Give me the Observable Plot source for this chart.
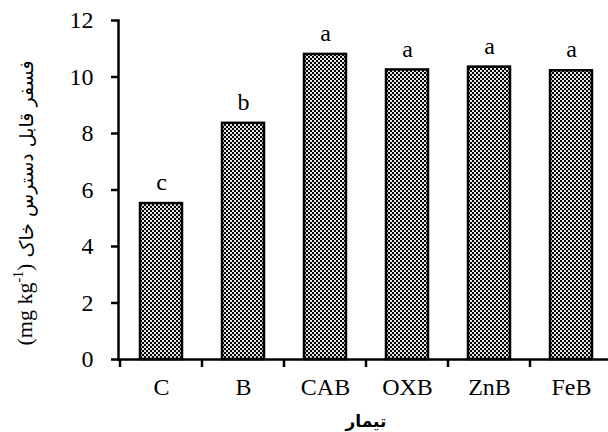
<!DOCTYPE html>
<html><head><meta charset="utf-8">
<script src="https://cdn.jsdelivr.net/npm/d3@7"></script>
<script src="https://cdn.jsdelivr.net/npm/@observablehq/plot@0.6"></script>
<style>body{margin:0;background:#fff} svg text, svg tspan{font-weight:normal}</style>
</head><body><div id="chart"></div>
<script>
const treatments = ["C", "B", "CAB", "OXB", "ZnB", "FeB"];
const phosphorus = [5.52, 8.36, 10.80, 10.25, 10.35, 10.22];
const letters = ["c", "b", "a", "a", "a", "a"];
const yTicks = [0, 2, 4, 6, 8, 10, 12];
const yTitleFa = "فسفر قابل دسترس خاک ";
const yTitleUnit = "(mg kg";
const yTitleSup = "-1";
const yTitleEnd = ")";
const xTitle = "تیمار";

const data = treatments.map((t, i) => ({t, v: phosphorus[i], l: letters[i]}));
const serif = "Liberation Serif, Times New Roman, serif";
const sans = "DejaVu Sans, sans-serif";
const PAD = 0.49;

function boundaryTicks(index, scales) {
  const x = scales.x, y = scales.y;
  const step = x.step(), bw = x.bandwidth();
  const g = d3.create("svg:g").attr("stroke", "black").attr("stroke-width", 2.5);
  const y0 = y(0);
  treatments.forEach(t => {
    const xb = x(t) - (step - bw) / 2;
    g.append("line").attr("x1", xb).attr("x2", xb).attr("y1", y0).attr("y2", y0 + 8);
  });
  return g.node();
}

function titles(index, scales) {
  const g = d3.create("svg:g");
  const r = scales.x.range();
  g.append("text")
    .attr("x", (r[0] + r[1]) / 2).attr("y", 422)
    .attr("text-anchor", "middle").attr("dominant-baseline", "middle")
    .style("font-family", sans).style("font-weight", "bold")
    .style("font-size", "17px").attr("fill", "black")
    .text(xTitle);
  const t = g.append("text")
    .attr("transform", "translate(27,203) rotate(-90)")
    .attr("text-anchor", "middle").attr("dominant-baseline", "middle")
    .attr("direction", "rtl").attr("fill", "black");
  t.append("tspan").style("font-family", sans).style("font-size", "19px").text(yTitleFa);
  t.append("tspan").style("font-family", serif).style("font-size", "22px").text(yTitleUnit);
  t.append("tspan").style("font-family", serif).style("font-size", "14px").attr("baseline-shift", "super").text(yTitleSup);
  t.append("tspan").style("font-family", serif).style("font-size", "22px").text(yTitleEnd);
  return g.node();
}

const plot = Plot.plot({
  width: 608,
  height: 432,
  marginLeft: 118,
  marginRight: 0,
  marginTop: 20,
  marginBottom: 73,
  style: {fontFamily: serif, background: "white", color: "black", overflow: "visible"},
  x: {domain: treatments, range: [118, 614], paddingInner: PAD, paddingOuter: PAD / 2, label: null},
  y: {domain: [0, 12], label: null},
  marks: [
    Plot.barY(data, {x: "t", y: "v", fill: "url(#checker)", stroke: "black", strokeWidth: 2.5}),
    Plot.text(data, {x: "t", y: "v", text: "l", dy: -21, fontSize: 24, fontFamily: serif, fill: "black"}),
    Plot.axisY({ticks: yTicks, tickSize: 7, tickPadding: 18, fontSize: 24, fontFamily: serif, strokeWidth: 2.5, label: null}),
    Plot.axisX({tickSize: 0, tickPadding: 18, fontSize: 24, fontFamily: serif, label: null}),
    Plot.frame({anchor: "left", stroke: "black", strokeWidth: 2.5}),
    Plot.frame({anchor: "bottom", stroke: "black", strokeWidth: 2.5}),
    boundaryTicks,
    titles
  ]
});

const ns = "http://www.w3.org/2000/svg";
const defs = document.createElementNS(ns, "defs");
defs.innerHTML = '<pattern id="checker" patternUnits="userSpaceOnUse" width="4" height="4">' +
  '<rect width="4" height="4" fill="#e2e2e2"/><rect width="2" height="2" fill="black"/>' +
  '<rect x="2" y="2" width="2" height="2" fill="black"/></pattern>';
plot.insertBefore(defs, plot.firstChild);
document.getElementById("chart").appendChild(plot);
</script>
</body></html>
